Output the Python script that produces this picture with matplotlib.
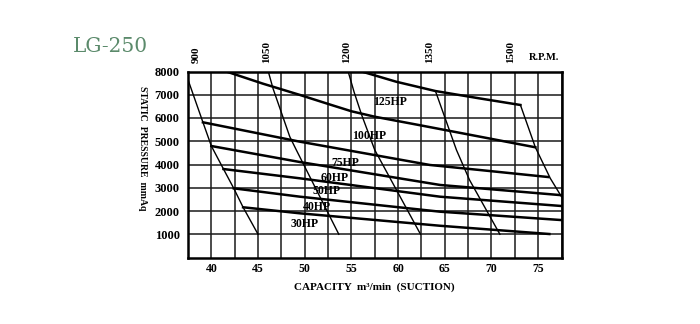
import numpy as np
import matplotlib
matplotlib.use("Agg")
import matplotlib.pyplot as plt
import matplotlib.ticker as ticker

# --- data ---
# constant horsepower curves: capacity (m3/min) vs static pressure (mmAq)
hp_names = ["125HP", "100HP", "75HP", "60HP", "50HP", "40HP", "30HP"]
hp_125_x = [56.1, 59.8, 64.0, 68.7, 73.1]
hp_125_y = [8000, 7560, 7160, 6845, 6560]
hp_100_x = [41.6, 45.5, 49.5, 52.7, 55.0, 57.5, 62.2, 66.9, 74.7]
hp_100_y = [8000, 7480, 6990, 6580, 6290, 6055, 5700, 5340, 4740]
hp_75_x = [39.1, 49.5, 63.4, 68.7, 76.1]
hp_75_y = [5815, 4980, 3980, 3765, 3460]
hp_60_x = [40.0, 49.5, 64.5, 77.5]
hp_60_y = [4795, 4105, 3120, 2680]
hp_50_x = [41.3, 49.5, 64.5, 77.5]
hp_50_y = [3805, 3405, 2615, 2215]
hp_40_x = [42.4, 49.5, 64.5, 77.5]
hp_40_y = [2975, 2615, 1970, 1610]
hp_30_x = [43.4, 49.5, 64.5, 76.2]
hp_30_y = [2160, 1900, 1365, 1010]

# constant speed curves (R.P.M.)
rpm_names = ["900", "1050", "1200", "1350", "1500"]
rpm_900_x = [37.45, 39.1, 40.0, 41.3, 42.4, 43.4, 45.0]
rpm_900_y = [7705, 5815, 4795, 3805, 2975, 2160, 1000]
rpm_1050_x = [46.1, 46.6, 48.4, 49.1, 53.65]
rpm_1050_y = [8000, 7275, 5195, 4625, 1000]
rpm_1200_x = [54.65, 55.3, 56.1, 57.5, 62.4]
rpm_1200_y = [8000, 7100, 6130, 4625, 1000]
rpm_1350_x = [64.0, 66.25, 67.65, 70.9]
rpm_1350_y = [7160, 4625, 3335, 1000]
rpm_1500_x = [73.1, 74.7, 76.3, 77.5]
rpm_1500_y = [6560, 4740, 3405, 2615]

# where the speed labels sit along the top edge
rpm_label_x = [38.4, 45.9, 54.5, 63.4, 72.1]

x_ticks = [40, 45, 50, 55, 60, 65, 70, 75]
y_ticks = [1000, 2000, 3000, 4000, 5000, 6000, 7000, 8000]

hp_curves = [(hp_125_x, hp_125_y), (hp_100_x, hp_100_y), (hp_75_x, hp_75_y),
             (hp_60_x, hp_60_y), (hp_50_x, hp_50_y), (hp_40_x, hp_40_y),
             (hp_30_x, hp_30_y)]
rpm_curves = [(rpm_900_x, rpm_900_y), (rpm_1050_x, rpm_1050_y),
              (rpm_1200_x, rpm_1200_y), (rpm_1350_x, rpm_1350_y),
              (rpm_1500_x, rpm_1500_y)]

# label anchors for the HP names (data coords)
hp_label_pos = [(59.1, 6700), (56.9, 5225), (54.3, 4075), (53.2, 3405),
                (52.3, 2870), (51.3, 2185), (50.0, 1440)]

serif = ["Liberation Serif", "DejaVu Serif"]
bold = dict(family=serif, weight="bold")

fig = plt.figure(figsize=(7.0, 3.24), dpi=100)
ax = fig.add_axes([188 / 700, 1 - 257.5 / 324, 373.5 / 700, 186 / 324])

ax.set_xlim(37.5, 77.5)
ax.set_ylim(0, 8000)

# grid: every 2.5 m3/min, every 1000 mmAq
ax.xaxis.set_major_locator(ticker.FixedLocator(x_ticks))
ax.xaxis.set_minor_locator(ticker.MultipleLocator(2.5))
ax.yaxis.set_major_locator(ticker.FixedLocator(y_ticks))
ax.grid(which="both", axis="x", color="#1a1a1a", linewidth=1.1)
ax.grid(which="major", axis="y", color="#1a1a1a", linewidth=1.1)
ax.tick_params(which="both", length=0)
ax.tick_params(axis="y", pad=6)
ax.tick_params(axis="x", pad=4)
ax.set_xticklabels([str(v) for v in x_ticks], fontsize=8.5, **bold)
ax.set_yticklabels([str(v) for v in y_ticks], fontsize=9, **bold)
for sp in ax.spines.values():
    sp.set_linewidth(1.8)
    sp.set_color("black")

for (xs, ys) in rpm_curves:
    ax.plot(xs, ys, color="black", linewidth=1.0, solid_joinstyle="round")
for (xs, ys) in hp_curves:
    ax.plot(xs, ys, color="black", linewidth=1.8, solid_joinstyle="round")

for name, (lx, ly) in zip(hp_names, hp_label_pos):
    ax.text(lx, ly, name, ha="center", va="center", fontsize=8.5, **bold)

# speed labels above the frame
for name, lx in zip(rpm_names, rpm_label_x):
    ax.text(lx, 1.045, name, transform=ax.get_xaxis_transform(),
            rotation=90, ha="center", va="bottom", fontsize=8, **bold)
ax.text(544 / 700, 1 - 57 / 324, "R.P.M.", transform=fig.transFigure,
        ha="center", va="center", fontsize=7.5, **bold)

ax.set_xlabel("CAPACITY  m³/min  (SUCTION)", fontsize=8, labelpad=5, **bold)
fig.text(142 / 700, 1 - 148 / 324, "STATIC  PRESSURE  mmAq", rotation=270,
         ha="center", va="center", fontsize=7, **bold)

fig.text(110 / 700, 1 - 46 / 324, "LG-250", ha="center", va="center",
         fontsize=14.5, color="#5b8a6b", family=["DejaVu Serif"])

fig.savefig("out.png", dpi=100, facecolor="white")
